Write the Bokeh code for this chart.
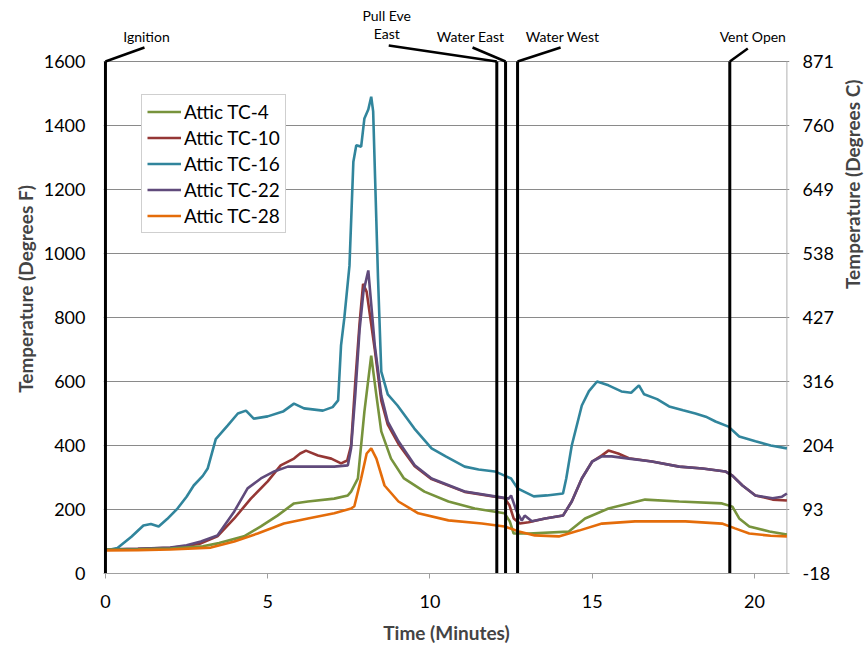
import math
from bokeh.plotting import figure
from bokeh.models import LinearAxis, FixedTicker, Legend, LegendItem
from bokeh.core.properties import value
from bokeh.embed import file_html
from bokeh.resources import INLINE

# ---------------- data ----------------
t_tc16 = [0, 0.15, 0.37, 0.8, 1.17, 1.4, 1.64, 1.9, 2.22, 2.5, 2.72, 3.0, 3.15, 3.4, 3.77, 4.08, 4.33, 4.57,
          5.0, 5.47, 5.81, 6.12, 6.7, 7.0, 7.17, 7.26, 7.36, 7.52, 7.64, 7.73, 7.88, 7.98, 8.1, 8.19, 8.25,
          8.31, 8.4, 8.5, 8.7, 9.0, 9.52, 10.05, 10.5, 11.07, 11.5, 12.0, 12.3, 12.5, 12.7, 12.9, 13.2, 13.6,
          14.1, 14.2, 14.37, 14.68, 14.9, 15.15, 15.5, 15.9, 16.2, 16.44, 16.6, 17.0, 17.37, 17.8, 18.18,
          18.5, 18.8, 19.2, 19.53, 20.03, 20.5, 21.0]
f_tc16 = [75, 75, 80, 115, 150, 155, 147, 170, 203, 240, 275, 305, 328, 420, 463, 500, 509, 484,
          491, 506, 531, 516, 509, 520, 541, 713, 797, 962, 1287, 1338, 1334, 1422, 1450, 1490, 1444,
          1234, 922, 631, 560, 525, 453, 391, 365, 334, 325, 319, 306, 297, 266, 256, 241, 244,
          250, 297, 400, 525, 570, 600, 588, 569, 565, 588, 560, 545, 522, 510, 500,
          490, 475, 459, 428, 413, 400, 391]

t_tc10 = [0, 1.0, 2.0, 2.5, 2.94, 3.45, 3.97, 4.48, 5.0, 5.4, 5.81, 6.0, 6.18, 6.55, 6.96, 7.26, 7.45,
          7.57, 7.7, 7.83, 7.94, 8.05, 8.3, 8.5, 8.7, 9.03, 9.53, 10.05, 11.07, 12.0, 12.3, 12.45, 12.58,
          12.77, 13.04, 13.55, 14.1, 14.37, 14.68, 15.0, 15.3, 15.5, 15.8, 16.13, 16.84, 17.68, 18.4,
          19.1, 19.32, 19.63, 20.03, 20.56, 21.0]
f_tc10 = [75, 77, 80, 86, 94, 116, 172, 234, 288, 338, 359, 375, 384, 369, 359, 344, 353,
          400, 600, 780, 905, 880, 700, 540, 465, 405, 335, 295, 255, 240, 235, 213, 172,
          156, 160, 172, 181, 225, 297, 350, 369, 384, 375, 360, 350, 334, 328,
          319, 306, 275, 244, 231, 228]

t_tc22 = [0, 1.0, 2.0, 2.5, 2.94, 3.45, 3.97, 4.38, 4.79, 5.2, 5.62, 6.24, 7.05, 7.47, 7.57, 7.7, 7.83,
          7.95, 8.1, 8.3, 8.5, 8.7, 9.03, 9.53, 10.05, 11.07, 12.0, 12.43, 12.5, 12.67, 12.83, 12.92,
          13.14, 13.55, 14.1, 14.37, 14.68, 15.0, 15.3, 15.6, 16.13, 16.84, 17.68, 18.4, 19.1, 19.32,
          19.63, 20.03, 20.56, 20.85, 21.0]
f_tc22 = [75, 77, 81, 88, 100, 119, 194, 266, 297, 319, 334, 334, 334, 338, 391, 560, 760,
          880, 947, 713, 556, 475, 413, 338, 297, 256, 241, 234, 244, 194, 165, 181,
          163, 172, 181, 225, 297, 350, 366, 366, 359, 350, 334, 328, 319, 306,
          275, 244, 235, 240, 250]

t_tc4 = [0, 1.0, 2.0, 3.0, 3.5, 4.27, 4.79, 5.3, 5.81, 6.24, 7.05, 7.47, 7.57, 7.78, 7.98, 8.19, 8.35,
         8.5, 8.8, 9.2, 9.83, 10.57, 11.38, 12.3, 12.46, 12.58, 13.04, 14.28, 14.78, 15.5, 16.63, 17.68,
         19.0, 19.32, 19.53, 19.84, 20.46, 21.0]
f_tc4 = [75, 76, 78, 85, 95, 116, 147, 181, 219, 225, 234, 244, 256, 297, 506, 681, 556,
         444, 359, 297, 256, 225, 203, 188, 163, 125, 125, 131, 172, 203, 231, 225,
         219, 209, 172, 147, 131, 122]

t_tc28 = [0, 1.0, 2.0, 3.25, 3.97, 4.69, 5.5, 6.24, 7.05, 7.57, 7.67, 7.88, 8.05, 8.19, 8.35, 8.6, 9.03,
          9.64, 10.57, 11.6, 12.3, 12.74, 13.23, 13.97, 14.59, 15.3, 16.32, 17.87, 19.0, 19.4, 19.84,
          20.5, 21.0]
f_tc28 = [72, 73, 75, 81, 100, 125, 156, 172, 188, 203, 210, 297, 375, 391, 359, 275, 225,
          188, 166, 156, 147, 131, 119, 116, 134, 156, 163, 163, 156, 141, 125, 118, 116]

series_names = ["Attic TC-4", "Attic TC-10", "Attic TC-16", "Attic TC-22", "Attic TC-28"]
series_t = [t_tc4, t_tc10, t_tc16, t_tc22, t_tc28]
series_f = [f_tc4, f_tc10, f_tc16, f_tc22, f_tc28]
series_colors = ["#77933C", "#953735", "#31859C", "#604A7B", "#E46C0A"]
draw_order = [2, 1, 3, 0, 4]

ignition_time = 0.0
event_times = [12.06, 12.33, 12.70, 19.24]   # Pull Eve East, Water East, Water West, Vent Open

f_ticks = [0, 200, 400, 600, 800, 1000, 1200, 1400, 1600]
c_tick_labels = ["-18", "93", "204", "316", "427", "538", "649", "760", "871"]
x_ticks = [0, 5, 10, 15, 20]
t_max = 21.0
f_max = 1600

# ---------------- layout ----------------
FONT = "Lato"
GRID = "#8a8a8a"
PX_PER_MIN = 32.43
PX_PER_F = 0.32
FRAME_TOP_PAD = 57          # px of frame above the 1600 line (room for the event notes)
X_PAD_L, X_PAD_R = 0.06, 0.08
y_top = f_max + FRAME_TOP_PAD / PX_PER_F
frame_w = int(round((t_max + X_PAD_L + X_PAD_R) * PX_PER_MIN))
frame_h = int(round(y_top * PX_PER_F))

p = figure(frame_width=frame_w, frame_height=frame_h,
           x_range=(-X_PAD_L, t_max + X_PAD_R), y_range=(0, y_top),
           output_backend="svg", toolbar_location=None,
           min_border_left=103, min_border_right=68, min_border_top=4, min_border_bottom=70)
p.background_fill_color = "white"
p.border_fill_color = "white"
p.outline_line_color = None

p.xgrid.visible = False
p.ygrid.ticker = FixedTicker(ticks=f_ticks)
p.ygrid.grid_line_color = GRID
p.ygrid.grid_line_width = 1

# bottom axis
xa = p.xaxis[0]
xa.ticker = FixedTicker(ticks=x_ticks)
xa.axis_label = "Time (Minutes)"
xa.axis_line_color = "#a0a0a0"
xa.major_tick_line_color = "#a0a0a0"
xa.major_tick_out = 5
xa.major_tick_in = 0
xa.minor_tick_line_color = None
xa.major_label_text_font = FONT
xa.major_label_text_font_size = "18px"
xa.major_label_text_color = "black"
xa.major_label_standoff = 16
xa.axis_label_text_font = FONT
xa.axis_label_text_font_size = "19px"
xa.axis_label_text_font_style = "bold"
xa.axis_label_standoff = 10

# left axis
ya = p.yaxis[0]
ya.ticker = FixedTicker(ticks=f_ticks)
ya.axis_label = "Temperature (Degrees F)"
ya.axis_line_color = None
ya.major_tick_line_color = None
ya.minor_tick_line_color = None
ya.major_label_text_font = FONT
ya.major_label_text_font_size = "18px"
ya.major_label_text_color = "black"
ya.major_label_standoff = 12
ya.axis_label_text_font = FONT
ya.axis_label_text_font_size = "19px"
ya.axis_label_text_font_style = "bold"
ya.axis_label_standoff = 4

# right axis (Celsius labels on the Fahrenheit scale)
ra = LinearAxis(ticker=FixedTicker(ticks=f_ticks),
                major_label_overrides={f: c for f, c in zip(f_ticks, c_tick_labels)},
                axis_label="Temperature (Degrees C)")
ra.axis_line_color = None
ra.major_tick_line_color = None
ra.minor_tick_line_color = None
ra.major_label_text_font = FONT
ra.major_label_text_font_size = "18px"
ra.major_label_text_color = "black"
ra.major_label_standoff = 7
ra.axis_label_text_font = FONT
ra.axis_label_text_font_size = "19px"
ra.axis_label_text_font_style = "bold"
ra.axis_label_standoff = 16
try:
    ra.axis_label_orientation = math.pi / 2
except Exception:
    pass
p.add_layout(ra, "right")

# right frame border
p.segment(x0=[t_max], y0=[0], x1=[t_max], y1=[f_max], line_color="#b0b0b0", line_width=1)

# series
renderers = {}
for i in draw_order:
    renderers[i] = p.line(series_t[i], series_f[i], line_color=series_colors[i], line_width=2.6)

# ignition + event lines (stop at the top gridline)
all_events = [ignition_time] + event_times
p.segment(x0=all_events, y0=[0] * len(all_events), x1=all_events, y1=[f_max] * len(all_events),
          line_color="black", line_width=3)

# notes above the plot with leader lines
def f_up(px):
    return f_max + px / PX_PER_F

def t_dx(px):
    return px / PX_PER_MIN

note_text = ["Ignition", "Pull Eve", "East", "Water East", "Water West", "Vent Open"]
note_x = [ignition_time + t_dx(41), event_times[0] + t_dx(-110), event_times[0] + t_dx(-110),
          event_times[1] + t_dx(-35), event_times[2] + t_dx(45), event_times[3] + t_dx(23)]
note_y = [f_up(25), f_up(46), f_up(28), f_up(25), f_up(25), f_up(25)]
p.text(x=note_x, y=note_y, text=note_text, text_font=value(FONT), text_font_size="14px",
       text_align="center", text_baseline="middle", text_color="black")

lead_x0 = [ignition_time, event_times[0], event_times[1], event_times[2], event_times[3]]
lead_x1 = [ignition_time + t_dx(39), event_times[0] + t_dx(-108), event_times[1] + t_dx(-33),
           event_times[2] + t_dx(43), event_times[3] + t_dx(18)]
lead_y1 = [f_up(14), f_up(16), f_up(14), f_up(14), f_up(13)]
p.segment(x0=lead_x0, y0=[f_max] * 5, x1=lead_x1, y1=lead_y1, line_color="black", line_width=2.5)

legend = Legend(items=[LegendItem(label=series_names[i], renderers=[renderers[i]]) for i in range(5)],
                location=(38, 340))
legend.label_text_font = FONT
legend.label_text_font_size = "19px"
legend.label_text_color = "black"
legend.glyph_width = 34
legend.glyph_height = 21
legend.label_height = 21
legend.label_standoff = 3
legend.spacing = 3
legend.padding = 5
legend.margin = 0
legend.border_line_color = "#a0a0a0"
legend.border_line_width = 1
legend.background_fill_alpha = 1
p.add_layout(legend)

open("out.html", "w").write(file_html(p, INLINE))
